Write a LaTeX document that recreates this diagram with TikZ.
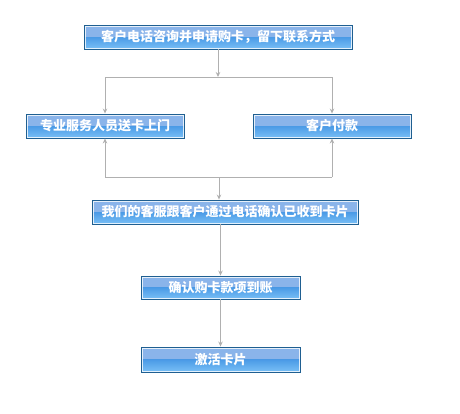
\documentclass[tikz,border=0pt]{standalone}
\usepackage{fontspec}
\newfontfamily\cjk{Noto Sans CJK SC}
\definecolor{BoxEdge}{RGB}{31, 95, 145}
\definecolor{BoxTop}{RGB}{138, 180, 234}
\definecolor{BoxMid}{RGB}{74, 154, 230}
\definecolor{BoxLow}{RGB}{122, 192, 246}
\definecolor{FlowGray}{RGB}{176, 176, 176}
\usetikzlibrary{arrows.meta, positioning, calc}

\tikzset{
  stepbox/.style={draw=BoxEdge, line width=0.9pt, minimum height=24pt,
    inner sep=0pt, text=white, font=\cjk\bfseries\fontsize{13}{15}\selectfont,
    path picture={
      \fill[BoxTop] (path picture bounding box.north west) rectangle (path picture bounding box.east);
      \shade[top color=BoxMid, bottom color=BoxLow] (path picture bounding box.west) rectangle (path picture bounding box.south east);
      \draw[white, opacity=0.8, line width=0.6pt] ([shift={(1.2pt,-1.2pt)}]path picture bounding box.north west) rectangle ([shift={(-1.2pt,1.2pt)}]path picture bounding box.south east);
    }},
  flow/.style={draw=FlowGray, line width=0.9pt, -{Stealth[length=5pt, width=4.5pt]}},
  link/.style={draw=FlowGray, line width=0.9pt}
}

\begin{document}
\begin{tikzpicture}[x=1pt, y=-1pt]
    \useasboundingbox (0,0) rectangle (460,413);

    % Steps
    \node[stepbox, minimum width=268pt] (consult) at (218,37) {客户电话咨询并申请购卡，留下联系方式};
    \node[stepbox, minimum width=158pt] (deliver) at (105,126) {专业服务人员送卡上门};
    \node[stepbox, minimum width=158pt] (pay) at (332,126) {客户付款};
    \node[stepbox, minimum width=266pt] (confirm) at (225,212) {我们的客服跟客户通过电话确认已收到卡片};
    \node[stepbox, minimum width=159pt, minimum height=23pt] (paid) at (220.5,287.5) {确认购卡款项到账};
    \node[stepbox, minimum width=159pt, minimum height=25pt] (activate) at (220.5,359.5) {激活卡片};

    % Branch points
    \coordinate (split) at (218,77);
    \coordinate (merge) at (219,177);

    % Connectors
    \draw[flow] (consult) -- (split);
    \draw[link] (split -| deliver) -- (split -| pay);
    \draw[flow] (split -| deliver) -- (deliver);
    \draw[flow] (split -| pay) -- (pay);

    \draw[link] (merge -| deliver) -- (merge -| pay);
    \draw[flow] (merge -| deliver) -- (deliver);
    \draw[flow] (merge -| pay) -- (pay);
    \draw[flow] (merge) -- (merge |- confirm.north);

    \draw[flow] (confirm.south -| paid) -- (paid);
    \draw[flow] (paid) -- (activate);
\end{tikzpicture}
\end{document}
